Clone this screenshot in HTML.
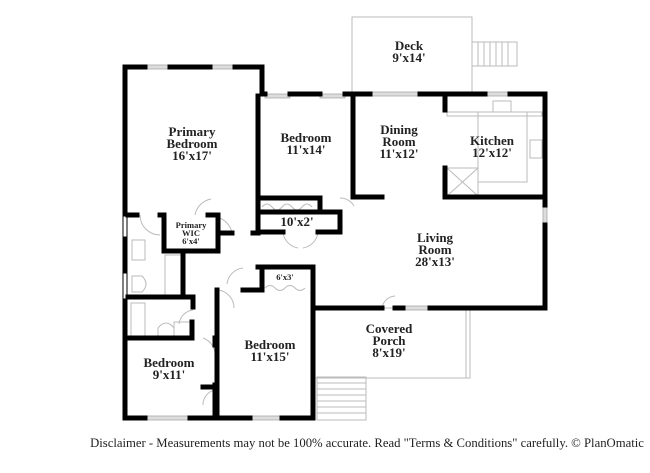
<!DOCTYPE html>
<html><head><meta charset="utf-8"><style>
body{margin:0;background:#fff;}
svg{display:block;}
text{font-family:"Liberation Serif",serif;font-weight:bold;fill:#222;text-anchor:middle;}
</style></head><body>
<svg width="650" height="473" viewBox="0 0 650 473">
<g fill="none" stroke="#bbb" stroke-width="1">
<rect x="352" y="17" width="120" height="77"/>
<rect x="472" y="42" width="45" height="24"/>
<path d="M478 42V66M484 42V66M490 42V66M496 42V66M502 42V66M508 42V66"/>
<path d="M315 308H470V378H315"/>
<path d="M466 308V378"/>
<rect x="317" y="377" width="49" height="43"/>
<path d="M317 383H366M317 389H366M317 395H366M317 401H366M317 407H366M317 413H366"/>
<rect x="447" y="112" width="95" height="4"/>
<path d="M478 112V182H527V112"/>
<rect x="447" y="168" width="31" height="28"/>
<path d="M447 168L478 196M478 168L447 196"/>
<rect x="493" y="101" width="18" height="11"/>
<rect x="530" y="140" width="12" height="18"/>
<rect x="165" y="255" width="16" height="40"/>
<rect x="131" y="303" width="14" height="33"/>
<rect x="132" y="240" width="13" height="20"/>
<path d="M132 276h10q8 8 0 16h-10z"/>
<path d="M158 338v-10q8-10 16 0v10"/>
<rect x="174" y="322" width="17" height="16"/>
<path d="M262 207q5-6 10 0t10 0t10 0t10 0t10 0M265 288q5-5 10 0t10 0t10 0t10 0"/>
<path d="M140 215a20 20 0 0 0 20 20M195 215a20 20 0 0 1 16 -16M232 233a20 20 0 0 0 -16 -16M283 232a18 18 0 0 0 15 16M318 232a18 18 0 0 1 -15 16M340 198a16 16 0 0 1 14 8M243 268a18 18 0 0 0 -16 16M218 290a18 18 0 0 1 16 18M193 310a16 16 0 0 0 -14 14M203 338a18 18 0 0 1 12 18M203 405a15 15 0 0 1 12 -15M382 308a14 14 0 0 1 13 -12"/>
</g>
<g fill="#ddd" stroke="#aaa" stroke-width="0.8">
<rect x="145" y="65" width="25" height="4"/><rect x="210" y="65" width="25" height="4"/>
<rect x="265" y="94" width="25" height="4"/><rect x="320" y="94" width="25" height="4"/>
<rect x="370" y="92" width="50" height="4"/><rect x="485" y="92" width="25" height="4"/>
<rect x="543" y="205" width="4" height="20"/>
<rect x="123" y="218" width="4" height="17"/><rect x="123" y="275" width="4" height="22"/>
<rect x="403" y="306" width="27" height="4"/>
<rect x="145" y="416" width="45" height="4"/><rect x="250" y="416" width="32" height="4"/>
</g>
<g fill="none" stroke="#000" stroke-width="5" stroke-linecap="square">
<path d="M125 67V418H145M190 418H250M282 418H313V308H382M395 308H403M430 308H545V225M545 205V94H510M485 94H420M370 94H345M320 94H290M265 94H262V67H235M210 67H170M145 67H125"/>
<path d="M125 218V235M125 275V297" stroke="#fff" stroke-width="3"/>
<path d="M258 96V233H253M232 233H218"/>
<path d="M353 96V197H382"/>
<path d="M445 96V110M445 168V197H545"/>
<path d="M258 198H320V210M258 212H340V232H318M283 232H258"/>
<path d="M128 215H137M160 215H164V251H218V215H208"/>
<path d="M183 251V297M128 297H193V307M192 322V338H128"/>
<path d="M215 338V345M215 385V418M203 387H215"/>
<path d="M217 290V418M243 290H262V267M258 267H313V308"/>
</g>
<g font-size="13">
<text x="192" y="136">Primary</text><text x="192" y="148">Bedroom</text><text x="192" y="160">16'x17'</text>
<text x="306" y="142">Bedroom</text><text x="306" y="154">11'x14'</text>
<text x="409" y="50">Deck</text><text x="409" y="62">9'x14'</text>
<text x="399" y="134">Dining</text><text x="399" y="146">Room</text><text x="399" y="158">11'x12'</text>
<text x="492" y="145">Kitchen</text><text x="492" y="157">12'x12'</text>
<text x="435" y="242">Living</text><text x="435" y="254">Room</text><text x="435" y="266">28'x13'</text>
<text x="389" y="333">Covered</text><text x="389" y="345">Porch</text><text x="389" y="357">8'x19'</text>
<text x="270" y="349">Bedroom</text><text x="270" y="361">11'x15'</text>
<text x="169" y="367">Bedroom</text><text x="169" y="379">9'x11'</text>
<text x="297" y="226">10'x2'</text>
</g>
<g font-size="8.5">
<text x="191" y="228">Primary</text><text x="191" y="236">WIC</text><text x="191" y="244">6'x4'</text>
<text x="285" y="280">6'x3'</text>
</g>
<text x="367" y="447" font-size="12.7" style="font-weight:normal">Disclaimer - Measurements may not be 100% accurate. Read "Terms &amp; Conditions" carefully. © PlanOmatic</text>
</svg>
</body></html>
